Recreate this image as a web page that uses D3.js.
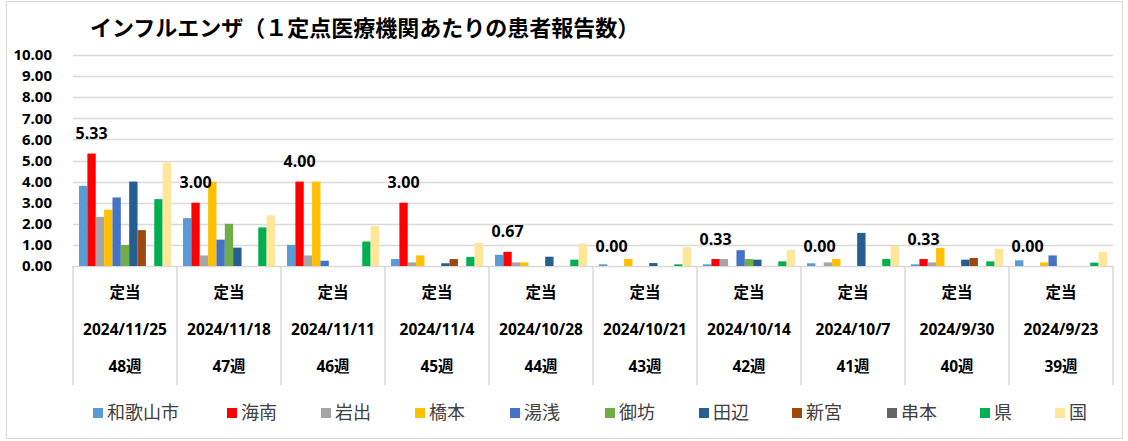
<!doctype html>
<html>
<head>
<meta charset="utf-8">
<style>
    body { margin: 0; background: #fff; }
    svg { font-family: "Noto Sans", "Noto Sans CJK JP", sans-serif; }
    .tick-label { font-weight: bold; font-size: 15px; fill: #000; }
    .cat-label { font-weight: bold; font-size: 15.5px; fill: #000; }
    .data-label { font-weight: bold; font-size: 16px; fill: #000; }
    .legend-label { font-family: "Noto Sans CJK JP", sans-serif; font-size: 18px; fill: #404040; }
</style>
<script src="https://d3js.org/d3.v7.min.js"></script>
</head>
<body>
<svg width="1128" height="441"></svg>
<script>
    // categories (newest first, as in the sheet)
    var weeks = ["48週", "47週", "46週", "45週", "44週", "43週", "42週", "41週", "40週", "39週"];
    var dates = ["2024/11/25", "2024/11/18", "2024/11/11", "2024/11/4", "2024/10/28",
                 "2024/10/21", "2024/10/14", "2024/10/7", "2024/9/30", "2024/9/23"];
    var rowLabel = "定当";

    // one array per area
    var wakayama = [3.80, 2.27, 1.00, 0.33, 0.53, 0.08, 0.08, 0.13, 0.08, 0.27];
    var kainan   = [5.33, 3.00, 4.00, 3.00, 0.67, 0.00, 0.33, 0.00, 0.33, 0.00];
    var iwade    = [2.33, 0.50, 0.50, 0.17, 0.17, 0.00, 0.33, 0.17, 0.17, 0.00];
    var hashimoto= [2.67, 4.00, 4.00, 0.50, 0.17, 0.33, 0.00, 0.33, 0.86, 0.17];
    var yuasa    = [3.25, 1.25, 0.25, 0.00, 0.00, 0.00, 0.75, 0.00, 0.00, 0.50];
    var gobo     = [1.00, 2.00, 0.00, 0.00, 0.00, 0.00, 0.33, 0.00, 0.00, 0.00];
    var tanabe   = [4.00, 0.87, 0.00, 0.13, 0.44, 0.14, 0.30, 1.57, 0.30, 0.00];
    var shingu   = [1.70, 0.00, 0.00, 0.33, 0.00, 0.00, 0.00, 0.00, 0.38, 0.00];
    var kushimoto= [0.00, 0.00, 0.00, 0.00, 0.00, 0.00, 0.00, 0.00, 0.00, 0.00];
    var ken      = [3.17, 1.83, 1.16, 0.43, 0.30, 0.08, 0.22, 0.33, 0.22, 0.16];
    var kuni     = [4.90, 2.40, 1.90, 1.10, 1.06, 0.89, 0.76, 0.94, 0.81, 0.67];

    var seriesNames = ["和歌山市", "海南", "岩出", "橋本", "湯浅", "御坊", "田辺", "新宮", "串本", "県", "国"];
    var seriesValues = [wakayama, kainan, iwade, hashimoto, yuasa, gobo, tanabe, shingu, kushimoto, ken, kuni];
    var colors = ["#5B9BD5", "#FF0000", "#A5A5A5", "#FFC000", "#4472C4", "#70AD47",
                  "#255E91", "#9E480E", "#636363", "#00B050", "#FFE699"];
    var yTicks = [0, 1, 2, 3, 4, 5, 6, 7, 8, 9, 10];
    var labelSeries = 1; // data labels shown for 海南

    var svg = d3.select("svg");

    // chart border
    svg.append("rect")
        .attr("x", 6.5).attr("y", 1.5)
        .attr("width", 1116).attr("height", 437)
        .attr("fill", "#fff")
        .attr("stroke", "#d9d9d9");

    svg.append("text")
        .attr("x", 90)
        .attr("y", 36)
        .attr("font-family", "Noto Sans CJK JP")
        .attr("font-size", "22px")
        .attr("font-weight", "bold")
        .attr("fill", "#000")
        .text("インフルエンザ（１定点医療機関あたりの患者報告数）");

    var plotLeft = 73, plotRight = 1113, plotTop = 55, plotBottom = 266;

    var x0 = d3.scaleBand().domain(d3.range(weeks.length)).range([plotLeft, plotRight]);
    var gap = x0.bandwidth() * 0.058;
    var x1 = d3.scaleBand().domain(d3.range(seriesNames.length)).range([gap, x0.bandwidth() - gap]);
    var y = d3.scaleLinear().domain([0, 10]).range([plotBottom, plotTop]);

    // gridlines
    svg.append("g").selectAll("line")
        .data(yTicks)
        .enter().append("line")
        .attr("x1", plotLeft).attr("x2", plotRight)
        .attr("y1", function(d) { return Math.round(y(d)) + 0.5; })
        .attr("y2", function(d) { return Math.round(y(d)) + 0.5; })
        .attr("stroke", "#d9d9d9")
        .attr("stroke-width", 1.5);

    // y tick labels
    svg.append("g").selectAll("text")
        .data(yTicks)
        .enter().append("text")
        .attr("class", "tick-label")
        .attr("x", 52)
        .attr("y", function(d) { return y(d); })
        .attr("dy", "0.35em")
        .attr("text-anchor", "end")
        .text(function(d) { return d.toFixed(2); });

    // bars
    var groups = svg.append("g").selectAll("g")
        .data(weeks)
        .enter().append("g")
        .attr("transform", function(d, i) { return "translate(" + x0(i) + ",0)"; });

    groups.selectAll("rect")
        .data(function(d, i) { return seriesValues.map(function(v, s) { return { s: s, v: v[i] }; }); })
        .enter().append("rect")
        .attr("x", function(d) { return x1(d.s); })
        .attr("width", x1.bandwidth())
        .attr("y", function(d) { return y(d.v); })
        .attr("height", function(d) { return plotBottom - y(d.v); })
        .attr("fill", function(d) { return colors[d.s]; });

    // data labels (海南)
    groups.append("text")
        .attr("class", "data-label")
        .attr("x", x1(labelSeries) + x1.bandwidth() / 2)
        .attr("y", function(d, i) { return y(kainan[i]) - 20; })
        .attr("dy", "0.35em")
        .attr("text-anchor", "middle")
        .text(function(d, i) { return kainan[i].toFixed(2); });

    // category table
    var table = svg.append("g");
    table.selectAll("line")
        .data(d3.range(weeks.length + 1))
        .enter().append("line")
        .attr("x1", function(i) { return i < weeks.length ? x0(i) : plotRight; })
        .attr("x2", function(i) { return i < weeks.length ? x0(i) : plotRight; })
        .attr("y1", plotBottom)
        .attr("y2", 385)
        .attr("stroke", "#d9d9d9")
        .attr("stroke-width", 1.5);

    var rows = [
        function() { return rowLabel; },
        function(i) { return dates[i]; },
        function(i) { return weeks[i]; }
    ];
    var rowY = [293, 330, 367];
    rows.forEach(function(f, r) {
        table.append("g").selectAll("text")
            .data(weeks)
            .enter().append("text")
            .attr("class", "cat-label")
            .attr("x", function(d, i) { return x0(i) + x0.bandwidth() / 2; })
            .attr("y", rowY[r])
            .attr("dy", "0.35em")
            .attr("text-anchor", "middle")
            .text(function(d, i) { return f(i); });
    });

    // legend
    var legendX = [93, 227, 321, 415, 510, 605, 699, 792, 887, 980, 1055];
    var legend = svg.append("g").selectAll("g")
        .data(seriesNames)
        .enter().append("g")
        .attr("transform", function(d, i) { return "translate(" + legendX[i] + ",413)"; });
    legend.append("rect")
        .attr("x", 0).attr("y", -5)
        .attr("width", 10).attr("height", 10)
        .attr("fill", function(d, i) { return colors[i]; });
    legend.append("text")
        .attr("class", "legend-label")
        .attr("x", 14)
        .attr("dy", "0.35em")
        .text(function(d) { return d; });
</script>
</body>
</html>
